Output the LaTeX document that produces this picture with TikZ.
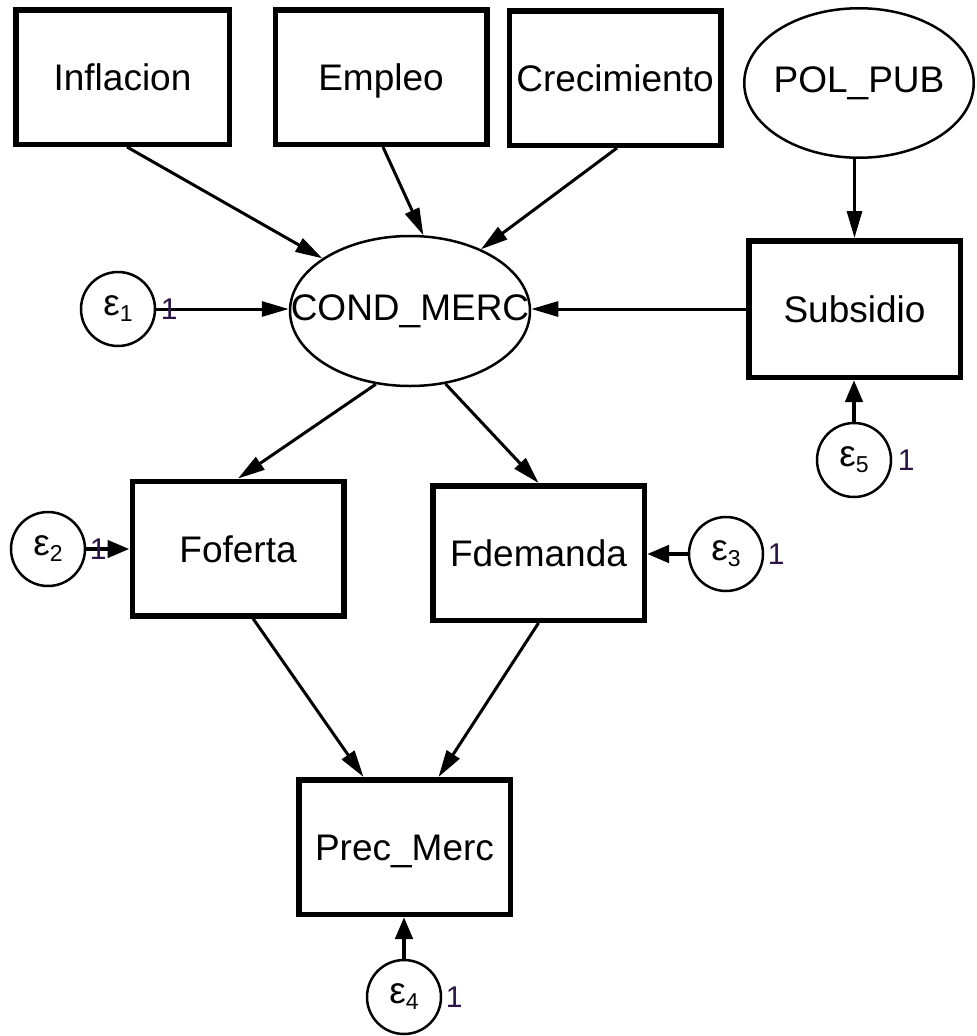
\documentclass[tikz,border=0pt]{standalone}
\usepackage{fontspec}
\setmainfont{Liberation Sans}
\usetikzlibrary{arrows.meta,shapes.geometric,calc}
\definecolor{onecol}{RGB}{45,20,70}
\newcommand{\errlab}[1]{ε\raisebox{-6pt}{\fontsize{23}{23}\selectfont #1}}
\begin{document}
\begin{tikzpicture}[x=1pt,y=-1pt,
  every node/.style={font=\fontsize{37}{40}\selectfont, inner sep=0pt},
  obs/.style={draw, line width=5.5pt, rectangle, minimum width=211.5pt, minimum height=134.5pt, text height=27pt, text depth=0pt},
  lat/.style={draw, line width=2.5pt, ellipse},
  err/.style={draw, line width=2.5pt, circle, minimum size=74pt},
  onelab/.style={font=\fontsize{30}{32}\selectfont, text=onecol},
  arr/.style={-{Triangle[length=27pt,width=15pt]}, line width=3pt},
  earr/.style={-{Triangle[length=22pt,width=17pt]}, line width=4.5pt}
]
\useasboundingbox (0,0) rectangle (977,1036);

\node[obs, minimum width=213.5pt] (infl) at (122.5,77) {Inflacion};
\node[obs] (empl) at (381,77) {Empleo};
\node[obs] (crec) at (615,78) {Crecimiento};
\node[lat, minimum width=229.5pt, minimum height=149.5pt] (pol) at (859,83) {\makebox[0pt]{POL\_PUB}};
\node[obs, minimum height=136.5pt] (sub) at (854.5,309) {Subsidio};
\node[lat, minimum width=240pt, minimum height=150pt] (cond) at (410,311) {\makebox[0pt]{COND\_MERC}};
\node[obs] (fof) at (238,548.5) {Foferta};
\node[obs] (fdem) at (538.5,553) {Fdemanda};
\node[obs] (prec) at (404.5,847) {Prec\_Merc};

\node[err] (e1) at (118,309) {\errlab{1}};
\node[err] (e2) at (48,549) {\errlab{2}};
\node[err] (e3) at (726,554) {\errlab{3}};
\node[err] (e4) at (404,997) {\errlab{4}};
\node[err] (e5) at (854,460) {\errlab{5}};

\draw[arr] ([xshift=4.5pt]infl.south) -- (cond.149.5);
\draw[arr] ([xshift=2pt]empl.south) -- (cond.80.4);
\draw[arr] ([xshift=2pt]crec.south) -- (cond.41.2);
\draw[arr] (pol.south -| sub.north) -- (sub.north);
\draw[arr] (sub.west) -- (sub.west -| cond.east);
\draw[arr] (e1.east) -- (e1.east -| cond.west);
\draw[arr] (cond.245.3) -- (fof.north);
\draw[arr] (cond.296) -- (fdem.north);
\draw[arr] ([xshift=15pt]fof.south) -- ([xshift=-41pt]prec.north);
\draw[arr] (fdem.south) -- ([xshift=34pt]prec.north);
\draw[earr] (e2.east) -- (e2.east -| fof.west);
\draw[earr] (e3.west) -- (e3.west -| fdem.east);
\draw[earr] (e5.north) -- (e5.north |- sub.south);
\draw[earr] (e4.north) -- (e4.north |- prec.south);

\node[onelab] (o1) at ([xshift=13pt]e1.east) {1};
\node[onelab] (o2) at ([xshift=12pt]e2.east) {1};
\node[onelab] (o3) at ([xshift=12pt]e3.east) {1};
\node[onelab] (o4) at ([xshift=12pt]e4.east) {1};
\node[onelab] (o5) at ([xshift=14pt]e5.east) {1};
\end{tikzpicture}
\end{document}
